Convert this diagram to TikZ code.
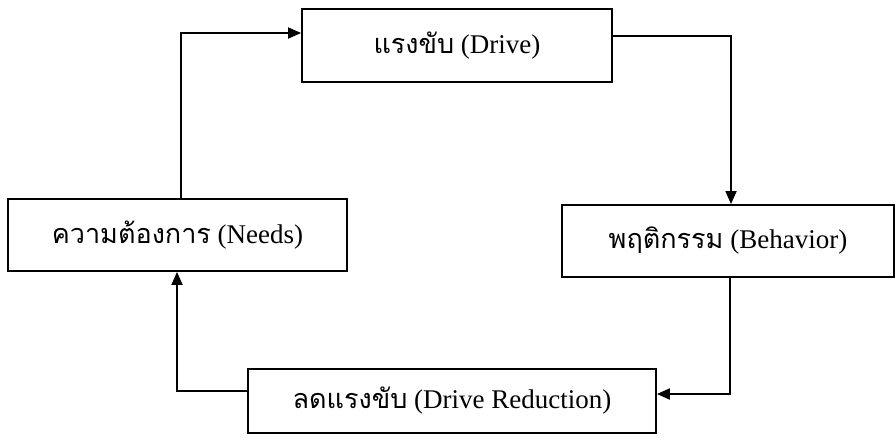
\documentclass[tikz,border=0pt]{standalone}
\usepackage{fontspec}
\setmainfont{Liberation Serif}
\newfontfamily\thaifont[Script=Thai]{Loma}
\usetikzlibrary{arrows.meta}
\tikzset{
  box/.style={draw=black, line width=1.8pt, minimum width=#1, inner sep=0pt, font=\fontsize{27}{32}\selectfont},
  link/.style={draw=black, line width=1.8pt, -{Triangle[length=13pt,width=11pt]}},
}
\begin{document}
\begin{tikzpicture}[x=1pt,y=-1pt]
\useasboundingbox (0,0) rectangle (895,442);
\node[box=310pt, minimum height=73pt] (drive) at (457,45.5) {{\thaifont แรงขับ} (Drive)};
\node[box=332pt, minimum height=72pt] (beh) at (728,241) {{\thaifont พฤติกรรม} (Behavior)};
\node[box=339pt, minimum height=72pt] (needs) at (177.5,235) {{\thaifont ความต้องการ} (Needs)};
\node[box=408pt, minimum height=64pt] (red) at (452,401) {{\thaifont ลดแรงขับ} (Drive Reduction)};
\coordinate (c1) at (181,33);
\coordinate (c2) at (731,36);
\coordinate (c3) at (730,394);
\coordinate (c4) at (177,391);
\draw[link] (needs.north -| c1) -- (c1) -- (c1 -| drive.west);
\draw[link] (c2 -| drive.east) -- (c2) -- (c2 |- beh.north);
\draw[link] (beh.south -| c3) -- (c3) -- (c3 -| red.east);
\draw[link] (c4 -| red.west) -- (c4) -- (c4 |- needs.south);
\end{tikzpicture}
\end{document}
